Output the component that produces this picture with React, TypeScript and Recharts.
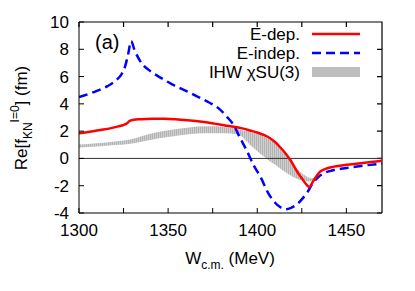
import React from 'react';
import {
  ComposedChart,
  Line,
  Area,
  XAxis,
  YAxis,
  ReferenceLine,
} from 'recharts';

// E-indep. curve (blue dashed)
const indepW = [
  1300, 1310, 1316, 1321, 1324, 1326, 1327.5, 1329.3, 1331, 1335, 1340, 1346,
  1352, 1360, 1367, 1373, 1379, 1383, 1387, 1390, 1392, 1394, 1398, 1402, 1406,
  1410, 1413, 1416, 1419, 1422, 1425, 1428, 1431, 1434, 1438, 1443, 1450, 1460,
  1470,
];
const indepRe = [
  4.5, 4.95, 5.3, 5.75, 6.2, 6.8, 7.6, 8.6, 8.0, 7.0, 6.4, 5.9, 5.45, 4.95,
  4.5, 4.1, 3.6, 3.05, 2.4, 1.6, 1.1, 0.6, -0.5, -1.4, -2.5, -3.25, -3.58,
  -3.72, -3.62, -3.4, -3.0, -2.5, -1.85, -1.4, -1.05, -0.85, -0.7, -0.52, -0.38,
];

// E-dep. curve (red solid)
const depW = [
  1300, 1306, 1312, 1318, 1322, 1325, 1327, 1328.5, 1330, 1335, 1341, 1348,
  1354, 1361, 1369, 1376, 1382, 1387, 1391, 1396, 1400, 1404, 1407, 1410, 1413,
  1416, 1418.5, 1421, 1423, 1425.5, 1427.5, 1429.3, 1431, 1432.5, 1435, 1438,
  1443, 1450, 1458, 1465, 1470,
];
const depRe = [
  1.84, 1.95, 2.08, 2.22, 2.35, 2.45, 2.58, 2.75, 2.82, 2.88, 2.91, 2.9, 2.87,
  2.8, 2.69, 2.55, 2.42, 2.32, 2.22, 2.05, 1.9, 1.7, 1.5, 1.2, 0.8, 0.35, -0.1,
  -0.65, -1.1, -1.55, -1.9, -2.1, -1.75, -1.45, -1.0, -0.78, -0.6, -0.47, -0.36,
  -0.25, -0.17,
];

// IHW chiSU(3) band (gray)
const bandW = [
  1300, 1310, 1320, 1328, 1335, 1345, 1355, 1363, 1370, 1376, 1381, 1385, 1390,
  1393, 1396, 1399, 1401.5, 1404, 1407, 1410, 1412.8, 1415.5, 1418.4, 1421,
  1424, 1427.5, 1430, 1432, 1434,
];
const bandLow = [
  0.8, 0.88, 0.98, 1.06, 1.22, 1.47, 1.66, 1.79, 1.84, 1.85, 1.84, 1.82, 1.72,
  1.4, 0.98, 0.65, 0.37, 0.12, -0.2, -0.45, -0.73, -0.98, -1.22, -1.42, -1.58,
  -1.7, -1.68, -1.58, -1.3,
];
const bandHigh = [
  1.02, 1.12, 1.25, 1.36, 1.62, 1.95, 2.15, 2.28, 2.35, 2.36, 2.3, 2.25, 2.12,
  2.02, 1.95, 1.85, 1.75, 1.6, 1.4, 1.15, 0.8, 0.35, -0.1, -0.55, -0.95, -1.3,
  -1.45, -1.42, -1.2,
];

const W_MIN = 1300;
const W_MAX = 1470;
const RE_MIN = -4;
const RE_MAX = 10;
const W_TICKS = [1300, 1325, 1350, 1375, 1400, 1425, 1450];
const Y_TICKS = [-4, -2, 0, 2, 4, 6, 8, 10];

const indepData = indepW.map((w, i) => ({ w, re: indepRe[i] }));
const depData = depW.map((w, i) => ({ w, re: depRe[i] }));
const bandData = bandW.map((w, i) => ({ w, range: [bandLow[i], bandHigh[i]] }));

const FONT = '"Liberation Sans", Arial, Helvetica, sans-serif';

// plot box (chart size minus margins/axis sizes) for the top/right frame
const CHART_W = 415;
const CHART_H = 291;
const MARGIN = { top: 22, right: 33, left: 0, bottom: 0 };
const Y_AXIS_W = 79;
const X_AXIS_H = 78;
const PLOT_L = MARGIN.left + Y_AXIS_W;
const PLOT_T = MARGIN.top;
const PLOT_R = CHART_W - MARGIN.right;
const PLOT_B = CHART_H - MARGIN.bottom - X_AXIS_H;
const sx = (w: number) => PLOT_L + ((w - W_MIN) / (W_MAX - W_MIN)) * (PLOT_R - PLOT_L);
const sy = (v: number) => PLOT_B - ((v - RE_MIN) / (RE_MAX - RE_MIN)) * (PLOT_B - PLOT_T);

const framePath =
  `M${PLOT_L},${PLOT_T}H${PLOT_R}V${PLOT_B}` +
  W_TICKS.map((t) => `M${sx(t)},${PLOT_T}V${PLOT_T + 5}`).join('') +
  Y_TICKS.map((t) => `M${PLOT_R},${sy(t)}H${PLOT_R - 5}`).join('');

export default function App() {
  return (
    <div style={{ position: 'absolute', left: 0, top: 0, fontFamily: FONT }}>
      <ComposedChart width={CHART_W} height={CHART_H} margin={MARGIN} style={{ fontFamily: FONT }}>
        <defs>
          <pattern id="hatch" width={2} height={4} patternUnits="userSpaceOnUse">
            <rect x={0} y={0} width={2} height={4} fill="#cfcfcf" />
            <rect x={0} y={0} width={1} height={4} fill="#b3b3b3" />
          </pattern>
        </defs>
        <XAxis
          xAxisId="w"
          type="number"
          dataKey="w"
          domain={[W_MIN, W_MAX]}
          ticks={W_TICKS}
          interval={0}
          allowDataOverflow
          height={X_AXIS_H}
          tickSize={-5}
          tickMargin={16}
          tickFormatter={(v: number) => (v % 50 === 0 ? String(v) : '')}
          axisLine={{ stroke: '#000' }}
          tickLine={{ stroke: '#000' }}
          tick={{ fill: '#000', fontSize: 17 }}
        />
        <YAxis
          yAxisId="re"
          type="number"
          domain={[RE_MIN, RE_MAX]}
          ticks={Y_TICKS}
          interval={0}
          allowDataOverflow
          width={Y_AXIS_W}
          tickSize={-5}
          tickMargin={15}
          axisLine={{ stroke: '#000' }}
          tickLine={{ stroke: '#000' }}
          tick={{ fill: '#000', fontSize: 17 }}
        />
        <Area
          xAxisId="w"
          yAxisId="re"
          data={bandData}
          dataKey="range"
          type="monotone"
          stroke="none"
          fill="url(#hatch)"
          fillOpacity={1}
          isAnimationActive={false}
        />
        <ReferenceLine xAxisId="w" yAxisId="re" y={0} stroke="#333" strokeWidth={1} />
        <Line
          xAxisId="w"
          yAxisId="re"
          data={indepData}
          dataKey="re"
          type="monotone"
          stroke="#0000ff"
          strokeWidth={2.5}
          strokeDasharray="9 5"
          dot={false}
          isAnimationActive={false}
        />
        <Line
          xAxisId="w"
          yAxisId="re"
          data={depData}
          dataKey="re"
          type="monotone"
          stroke="#ff0000"
          strokeWidth={2.5}
          dot={false}
          isAnimationActive={false}
        />
        {/* legend + top/right frame */}
        <g style={{ fontFamily: FONT }} fontSize={17} fill="#000">
          <path d={framePath} stroke="#000" strokeWidth={1.2} fill="none" />
          <text x={300} y={40} textAnchor="end">E-dep.</text>
          <line x1={312} y1={34} x2={360} y2={34} stroke="#ff0000" strokeWidth={2.5} />
          <text x={300} y={59} textAnchor="end">E-indep.</text>
          <line x1={312} y1={53} x2={360} y2={53} stroke="#0000ff" strokeWidth={2.5} strokeDasharray="9 5" />
          <text x={300} y={78} textAnchor="end">IHW {'\u03c7'}SU(3)</text>
          <rect x={312} y={67} width={48} height={10} fill="#bdbdbd" />
        </g>
        <text x={95} y={49} fontSize={20} fill="#000" style={{ fontFamily: FONT }}>
          (a)
        </text>
        <text x={230} y={264} fontSize={17} fill="#000" textAnchor="middle" style={{ fontFamily: FONT }}>
          <tspan>W</tspan>
          <tspan fontSize={12} dy={5}>c.m.</tspan>
          <tspan dy={-5}> (MeV)</tspan>
        </text>
        <text
          x={0}
          y={0}
          fontSize={17}
          fill="#000"
          textAnchor="middle"
          transform="translate(27,118) rotate(-90)"
          style={{ fontFamily: FONT }}
        >
          <tspan>Re[f</tspan>
          <tspan fontSize={12} dy={5}>KN</tspan>
          <tspan fontSize={12} dy={-13}>I=0</tspan>
          <tspan dy={8}>] (fm)</tspan>
        </text>
      </ComposedChart>
    </div>
  );
}
